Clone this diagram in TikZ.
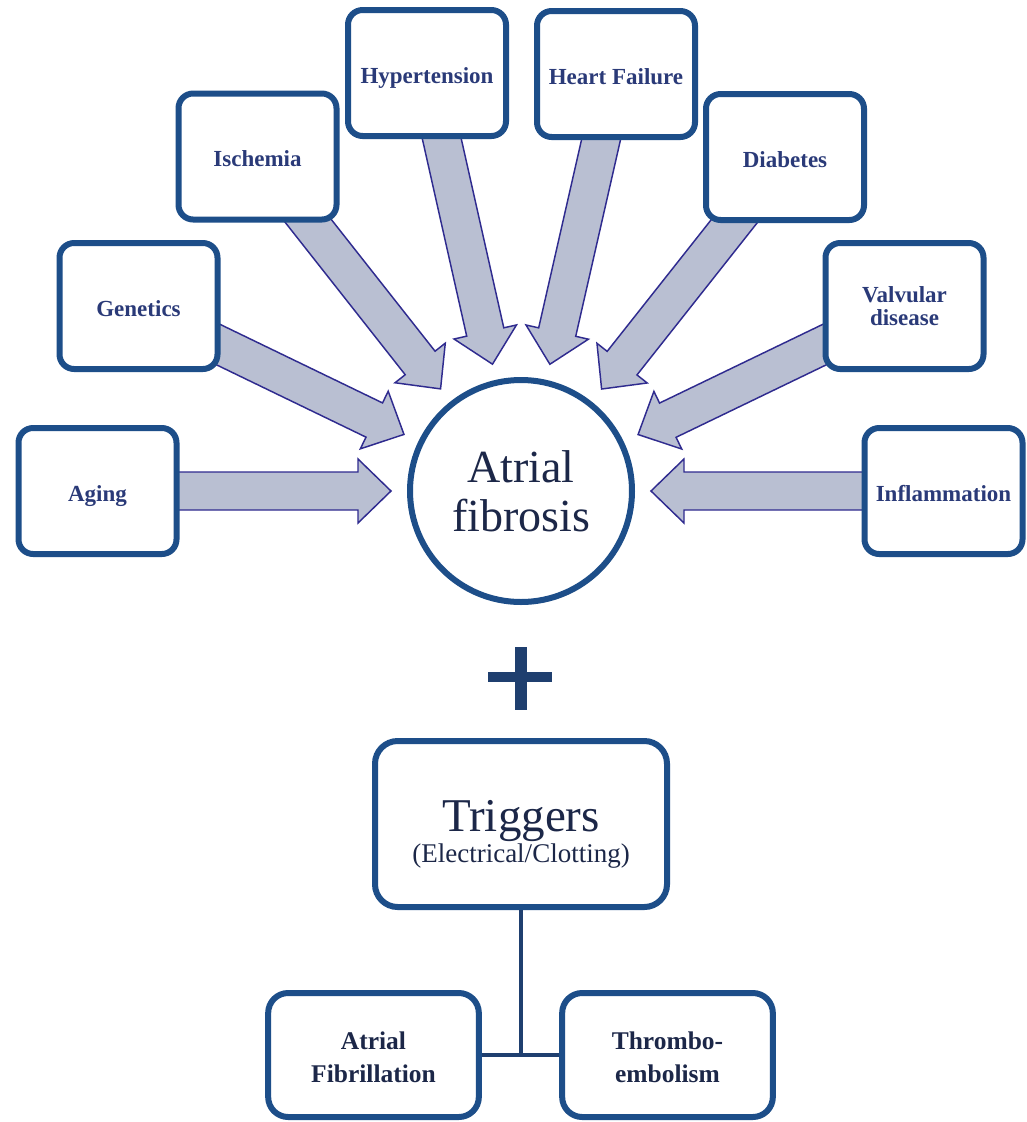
\documentclass[tikz,border=0pt]{standalone}
\usepackage{fontspec}
\setmainfont{Liberation Serif}
\usetikzlibrary{calc,shadows,backgrounds}

\definecolor{boxline}{HTML}{1D4E89}
\definecolor{boxtext}{HTML}{2A3A78}
\definecolor{darktext}{HTML}{1C2748}
\definecolor{arrowfill}{HTML}{B9BFD2}
\definecolor{arrowline}{HTML}{2F2B8F}
\definecolor{plusblue}{HTML}{1F3F6F}

\tikzset{
  softshadow/.style={drop shadow={shadow xshift=1.2pt, shadow yshift=-1.8pt, opacity=0.22, fill=black}},
  cause/.style={draw=boxline, line width=4.5pt, fill=white, rounded corners=11pt,
    minimum width=118.5pt, minimum height=94.5pt, inner sep=0pt, align=center,
    text=boxtext, font=\fontsize{17.25pt}{17.25pt}\selectfont\bfseries,
    text height=15pt, text depth=0pt, softshadow},
  hub/.style={circle, draw=boxline, line width=4.5pt, fill=white, minimum size=166.5pt,
    inner sep=0pt, align=center, text=darktext,
    font=\fontsize{34.5pt}{36.75pt}\selectfont, text height=60pt, text depth=0pt, softshadow},
  trigbox/.style={draw=boxline, line width=4.5pt, fill=white, rounded corners=17pt,
    minimum width=219pt, minimum height=124.5pt, inner sep=0pt, align=center,
    text=darktext, text height=57pt, text depth=0pt, softshadow},
  outcome/.style={draw=boxline, line width=4.5pt, fill=white, rounded corners=15pt,
    minimum width=158pt, minimum height=93pt, inner sep=0pt, align=center,
    text=darktext, font=\fontsize{19.1pt}{24.75pt}\selectfont\bfseries,
    text height=40.5pt, text depth=0pt, softshadow},
  feed/.style={fill=arrowfill, draw=arrowline, line width=1.1pt, line join=miter},
  plusbar/.style={draw=plusblue},
  link/.style={draw=plusblue, line width=3pt},
}

% block arrow from a cause box towards the central circle
\newcommand\feedarrow[1]{%
  \coordinate (#1-tip) at ($(fib.center)!97.5pt!(#1.center)$);
  \coordinate (#1-neck) at ($(#1-tip)!24.75pt!(#1.center)$);
  \path[feed]
    ($(#1.center)!14.25pt!90:(#1-tip)$) --
    ($(#1-neck)!14.25pt!90:(#1-tip)$) --
    ($(#1-neck)!24pt!90:(#1-tip)$) --
    (#1-tip) --
    ($(#1-neck)!24pt!-90:(#1-tip)$) --
    ($(#1-neck)!14.25pt!-90:(#1-tip)$) --
    ($(#1.center)!14.25pt!-90:(#1-tip)$) -- cycle;
}

\begin{document}
\begin{tikzpicture}[x=0.75pt, y=-0.75pt]
\useasboundingbox (0,0) rectangle (1027,1122);

% central circle
\node[hub] (fib) at (521,491) {Atrial\\fibrosis};

% contributing factors
\node[cause] (aging)    at (97.5,491)    {Aging};
\node[cause] (genetics) at (138.5,306)   {Genetics};
\node[cause] (ischemia) at (257.5,156.5) {Ischemia};
\node[cause] (hyper)    at (427,73)      {Hypertension};
\node[cause] (hf)       at (616,74)      {Heart Failure};
\node[cause] (diab)     at (785,157)     {Diabetes};
\node[cause, text height=28.5pt] (valv) at (904.5,306) {Valvular\\disease};
\node[cause] (infl)     at (943.5,491)   {Inflammation};

\begin{scope}[on background layer]
  \fill[white] (0,0) rectangle (1027,1122);
  \feedarrow{aging}
  \feedarrow{genetics}
  \feedarrow{ischemia}
  \feedarrow{hyper}
  \feedarrow{hf}
  \feedarrow{diab}
  \feedarrow{valv}
  \feedarrow{infl}
\end{scope}

% plus sign
\coordinate (plus) at (521,677);
\draw[plusbar, line width=7.5pt] ($(plus)+(-33,0)$) -- ($(plus)+(31,0)$);
\draw[plusbar, line width=9pt] ($(plus)+(0,-30)$) -- ($(plus)+(0,33)$);

% triggers and outcomes
\node[trigbox] (trig) at (521,824)
  {\fontsize{35.25pt}{26.25pt}\selectfont Triggers\\
   \fontsize{20.25pt}{26.25pt}\selectfont (Electrical/Clotting)};

\node[outcome] (af) at (373.5,1055) {Atrial\\Fibrillation};
\node[outcome] (te) at (667.5,1055) {Thrombo-\\embolism};

\draw[link] (trig.south) -- (trig.south |- af.east);
\draw[link] (af.east) -- (te.west);
\end{tikzpicture}
\end{document}
